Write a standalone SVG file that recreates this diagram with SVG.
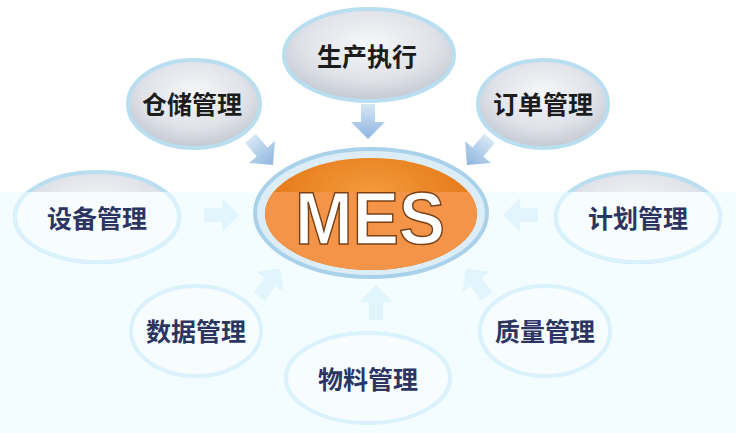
<svg xmlns="http://www.w3.org/2000/svg" width="736" height="433" viewBox="0 0 736 433">
<defs>
<radialGradient id="gNode" cx="50%" cy="38%" r="60%">
<stop offset="0" stop-color="#f6f7f9"/>
<stop offset="0.65" stop-color="#dfe2e8"/>
<stop offset="1" stop-color="#c6cad3"/>
</radialGradient>
<radialGradient id="gMes" cx="50%" cy="30%" r="65%">
<stop offset="0" stop-color="#f39a3a"/>
<stop offset="1" stop-color="#e0700f"/>
</radialGradient>
<linearGradient id="gArrow" x1="0" y1="0" x2="0" y2="1">
<stop offset="0" stop-color="#d7e7f5"/>
<stop offset="1" stop-color="#8db5de"/>
</linearGradient>
<clipPath id="wash"><rect x="0" y="192" width="736" height="241"/></clipPath>
<path id="arr" d="M-7,-18 L7,-18 L7,0 L17,0 L0,17 L-17,0 L-7,0 Z"/>
</defs>
<style>
.node{fill:url(#gNode);stroke:#b8def0;stroke-width:4}
.pale{fill:#f7fdff;stroke:#d9f2fb;stroke-width:4}
.lbl{font-family:"Noto Sans CJK SC","Noto Sans",sans-serif;font-weight:bold;font-size:25px;fill:#1c1c1c;text-anchor:middle;dominant-baseline:central}
.lbl2{font-family:"Noto Sans CJK SC","Noto Sans",sans-serif;font-weight:bold;font-size:25px;fill:#2c3562;text-anchor:middle;dominant-baseline:central}
.a{fill:url(#gArrow)}
.ap{fill:#e2f5fc}
</style>
<rect x="0" y="0" width="736" height="433" fill="#ffffff"/>
<rect x="0" y="192" width="736" height="241" fill="#f3fcff"/>

<g id="connectors">
<use href="#arr" class="a" transform="translate(368,122)"/>
<use href="#arr" class="a" transform="translate(262,152) rotate(-40)"/>
<use href="#arr" class="a" transform="translate(478,152) rotate(40)"/>
<use href="#arr" class="ap" transform="translate(222,215) rotate(-90)"/>
<use href="#arr" class="ap" transform="translate(520,215) rotate(90)"/>
<use href="#arr" class="ap" transform="translate(270,282) rotate(-143)"/>
<use href="#arr" class="ap" transform="translate(376,302) rotate(180)"/>
<use href="#arr" class="ap" transform="translate(476,282) rotate(143)"/>
</g>

<g id="node-production">
<ellipse class="node" cx="369" cy="55" rx="85" ry="46"/>
<text class="lbl" x="367" y="55">生产执行</text>
</g>
<g id="node-warehouse">
<ellipse class="node" cx="194" cy="104" rx="66" ry="44"/>
<text class="lbl" x="192" y="103">仓储管理</text>
</g>
<g id="node-order">
<ellipse class="node" cx="543" cy="104" rx="65" ry="44"/>
<text class="lbl" x="543" y="103">订单管理</text>
</g>
<g id="node-equipment">
<ellipse class="node" cx="97" cy="217" rx="82" ry="45"/>
<ellipse class="pale" cx="97" cy="217" rx="82" ry="45" clip-path="url(#wash)"/>
<text class="lbl2" x="97" y="217">设备管理</text>
</g>
<g id="node-plan">
<ellipse class="node" cx="638" cy="217" rx="82" ry="45"/>
<ellipse class="pale" cx="638" cy="217" rx="82" ry="45" clip-path="url(#wash)"/>
<text class="lbl2" x="638" y="217">计划管理</text>
</g>
<g id="node-data">
<ellipse class="pale" cx="196" cy="331" rx="65" ry="45"/>
<text class="lbl2" x="196" y="330">数据管理</text>
</g>
<g id="node-quality">
<ellipse class="pale" cx="545" cy="331" rx="65" ry="45"/>
<text class="lbl2" x="545" y="330">质量管理</text>
</g>
<g id="node-material">
<ellipse class="pale" cx="368" cy="378" rx="82" ry="45"/>
<text class="lbl2" x="368" y="378">物料管理</text>
</g>
<g id="node-mes">
<ellipse cx="371" cy="213" rx="116" ry="64" fill="#dcedf7" stroke="#a9d2ea" stroke-width="4"/>
<ellipse cx="371" cy="214" rx="106" ry="56" fill="url(#gMes)"/>
<ellipse cx="371" cy="214" rx="106" ry="56" fill="#f39448" clip-path="url(#wash)"/>
<text x="370" y="244" font-family="Liberation Sans, Arial, sans-serif" font-weight="bold" font-size="74" textLength="150" lengthAdjust="spacingAndGlyphs" fill="#ffffff" stroke="#7a4216" stroke-width="1.5" text-anchor="middle">MES</text>
</g>
</svg>
